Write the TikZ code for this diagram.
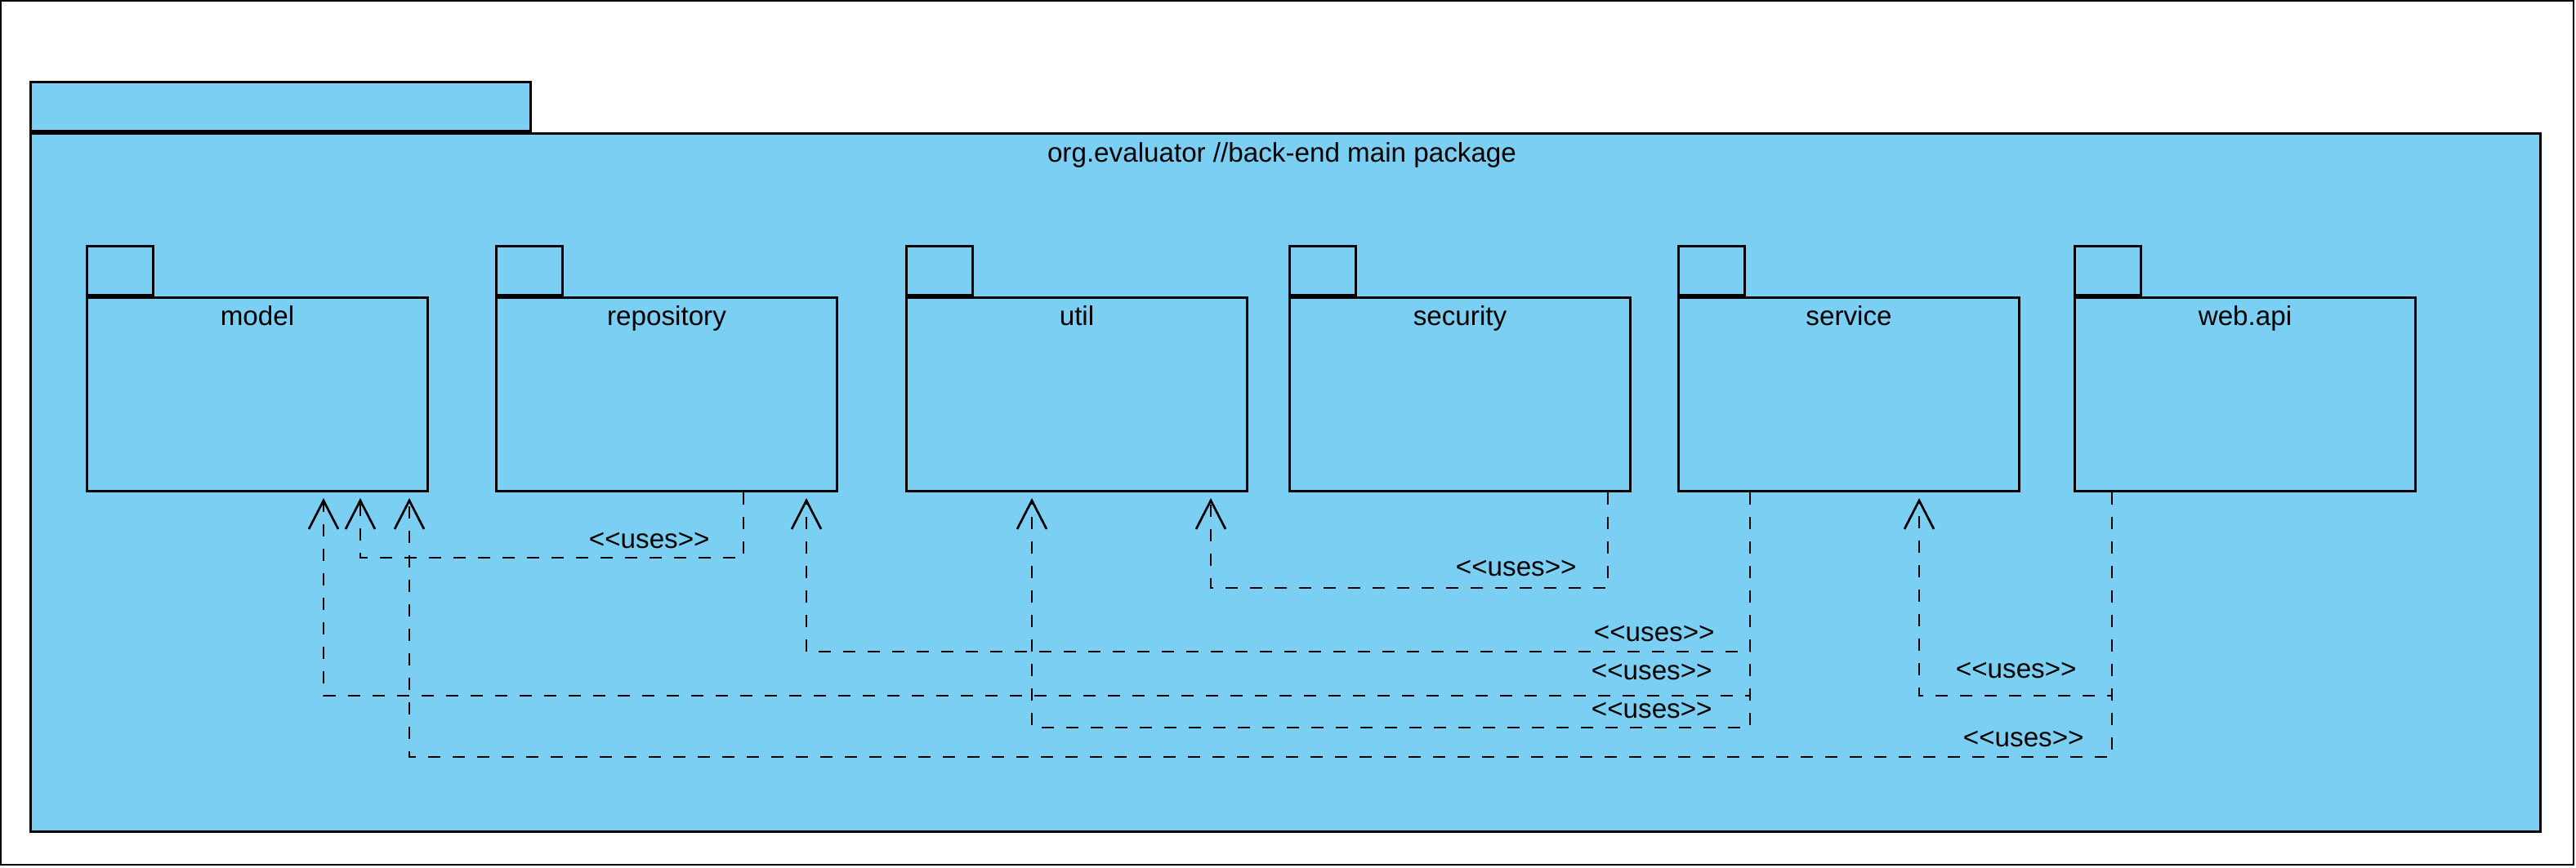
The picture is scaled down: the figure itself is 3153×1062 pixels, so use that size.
\documentclass[tikz,border=0pt]{standalone}
\usepackage{fontspec}
\newfontfamily\umlfont{Liberation Sans}
\usepackage{tikz}
\usetikzlibrary{arrows.meta}
\usetikzlibrary{calc}
\definecolor{pkgblue}{RGB}{123,207,243}

\tikzset{
  pkg/.style={draw, line width=1.5pt, fill=pkgblue, minimum width=208.5pt, minimum height=118.5pt, inner sep=0pt, anchor=north west},
  pkgtab/.style={draw, line width=1.5pt, fill=pkgblue, minimum width=40.5pt, minimum height=30pt, inner sep=0pt, anchor=south west},
  pkgname/.style={anchor=base, inner sep=0pt},
  uses/.style={line width=1.35pt, dash pattern=on 7.5pt off 7.5pt, -{Straight Barb[length=17.5pt, width=18pt]}, shorten >=3.5pt},
  usestxt/.style={anchor=base east, inner sep=0pt}
}

\begin{document}
\begin{tikzpicture}[x=0.5pt, y=-0.5pt, font=\umlfont\fontsize{16.6}{20}\selectfont]
    % Fix the size of the picture
    \useasboundingbox (0,0) rectangle (3153,1062);
    \draw[line width=1.4pt] (1,1) rectangle (3150,1059);

    % Draw the main package
    \node[pkgtab, minimum width=306pt] (main-tab) at (36,162) {};
    \node[pkg, minimum width=1536pt, minimum height=427.5pt] (main) at (36,162) {};
    \node[pkgname] (main-name) at (1569,198) {org.evaluator //back-end main package};

    % Draw the sub packages
    \foreach \name/\x/\txt in {model/105/model, repository/606/repository, util/1108/util,
                              security/1577/security, service/2053/service, webapi/2538/web.api}{
        \node[pkg] (\name) at (\x,363) {};
        \node[pkgtab] (\name-tab) at (\name.north west) {};
        \node[pkgname] (\name-name) at ([yshift=-17.5pt]\name.north) {\txt};
    }

    % Draw the dependencies
    \draw[uses] (repository.south -| 910,0) -- ++(0,80) -| (model.south -| 441,0);
    \draw[uses] (security.south -| 1968,0) -- ++(0,117) -| (util.south -| 1482,0);
    \draw[uses] (service.south -| 2142,0) -- ++(0,195) -| (repository.south -| 987,0);
    \draw[uses] (service.south -| 2142,0) -- ++(0,249) -| (model.south -| 396,0);
    \draw[uses] (service.south -| 2142,0) -- ++(0,288) -| (util.south -| 1263,0);
    \draw[uses] (webapi.south -| 2585,0) -- ++(0,249) -| (service.south -| 2349,0);
    \draw[uses] (webapi.south -| 2585,0) -- ++(0,324) -| (model.south -| 501,0);

    % Label the dependencies
    \node[usestxt] (uses1) at (869,671) {<<uses>>};
    \node[usestxt] (uses2) at (1930,705) {<<uses>>};
    \node[usestxt] (uses3) at (2099,785) {<<uses>>};
    \node[usestxt] (uses4) at (2096,832) {<<uses>>};
    \node[usestxt] (uses5) at (2096,879) {<<uses>>};
    \node[usestxt] (uses6) at (2542,830) {<<uses>>};
    \node[usestxt] (uses7) at (2551,914) {<<uses>>};
\end{tikzpicture}
\end{document}
